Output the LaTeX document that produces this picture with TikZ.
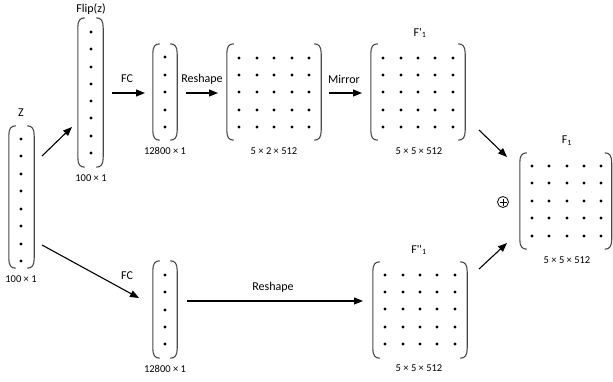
\documentclass[tikz,border=0pt]{standalone}
\usepackage{fontspec}
\setmainfont{Carlito}
\newfontfamily\plainfont{Carlito}
\usetikzlibrary{arrows.meta,fit}
\tikzset{
  paren/.style={draw=black!72, line width=1.1pt},
  conn/.style={line width=1.1pt, -{Triangle[length=9pt,width=7pt]}},
  lab/.style={font=\fontsize{12}{14}\selectfont, inner sep=0},
  dim/.style={font=\fontsize{10.5}{12}\selectfont, inner sep=0},
  box/.style={inner sep=0, draw=none},
}
% a matrix/vector drawn as a pair of round brackets: name, left, right, top, bottom
\newcommand\bracketpair[5]{%
  \coordinate (#1-nw) at (#2,#4);
  \coordinate (#1-se) at (#3,#5);
  \node[box, fit=(#1-nw)(#1-se)] (#1) {};
  \draw[paren] ([xshift=7pt]#1.north west) .. controls ([xshift=2pt]#1.north west) and ([yshift=-3pt]#1.north west) .. ([yshift=-10pt]#1.north west)
     -- ([yshift=10pt]#1.south west) .. controls ([yshift=3pt]#1.south west) and ([xshift=2pt]#1.south west) .. ([xshift=7pt]#1.south west);
  \draw[paren] ([xshift=-7pt]#1.north east) .. controls ([xshift=-2pt]#1.north east) and ([yshift=-3pt]#1.north east) .. ([yshift=-10pt]#1.north east)
     -- ([yshift=10pt]#1.south east) .. controls ([yshift=3pt]#1.south east) and ([xshift=-2pt]#1.south east) .. ([xshift=-7pt]#1.south east);
}
\newcommand\dotgrid[2]{\foreach \x in {#1} {\foreach \y in {#2} {\fill (\x,\y) circle (1.6);}}}
\begin{document}
\begin{tikzpicture}[x=1pt,y=-1pt]
\useasboundingbox (0,0) rectangle (613,381);

% input vector z and its flipped copy
\bracketpair{zv}{9}{34}{126}{268}
\dotgrid{21}{139,156,174,191,209,226,244,261}
\node[lab] (zlab) at (21,113) {Z};
\node[dim] (zdim) at (21,279) {100 × 1};

\bracketpair{flip}{78}{103}{18}{167}
\dotgrid{91}{32,49,67,84,101,118,136,153}
\node[lab] (fliplab) at (91,9) {Flip(z)};
\node[dim] (flipdim) at (91,178) {100 × 1};

% upper branch
\bracketpair{fca}{153}{177}{44}{140}
\dotgrid{165}{57,75,92,110,127}
\node[dim] (fcadim) at (165,151) {12800 × 1};

\bracketpair{rs}{227}{321}{44}{140}
\dotgrid{239,257,274,292,309}{58,75,92,110,127}
\node[dim] (rsdim) at (274,151) {5 × 2 × 512};

\bracketpair{fp}{371}{465}{44}{140}
\dotgrid{383,401,418,435,453}{58,75,92,110,127}
\node[lab] (fplab) at (420,33) {F{\plainfont'}\textsubscript{1}};
\node[dim] (fpdim) at (419,151) {5 × 5 × 512};

% lower branch
\bracketpair{fcb}{153}{177}{261}{358}
\dotgrid{165}{275,292,310,327,344}
\node[dim] (fcbdim) at (165,369) {12800 × 1};

\bracketpair{fpp}{373}{467}{262}{358}
\dotgrid{385,403,420,437,455}{275,292,309,327,344}
\node[lab] (fpplab) at (419,250) {F{\plainfont''}\textsubscript{1}};
\node[dim] (fppdim) at (419,368) {5 × 5 × 512};

% output
\bracketpair{fo}{520}{611.5}{153}{249}
\dotgrid{532,549,567,584,601}{166,183,201,218,236}
\node[lab] (folab) at (567,141) {F\textsubscript{1}};
\node[dim] (fodim) at (567,260) {5 × 5 × 512};

\node[circle, draw, line width=0.8pt, minimum size=11pt, inner sep=0] (plus) at (503,202) {};
\draw[line width=0.8pt] ([yshift=3.5pt]plus.center) -- ([yshift=-3.5pt]plus.center)
  ([xshift=-3.5pt]plus.center) -- ([xshift=3.5pt]plus.center);

% arrow end points
\coordinate (zup) at (42,156);     \coordinate (flipin) at (72,127);
\coordinate (flipout) at (112,93); \coordinate (fcain) at (145,93);
\coordinate (fcaout) at (186,93);  \coordinate (rsin) at (218,93);
\coordinate (rsout) at (329,93);   \coordinate (fpin) at (362,93);
\coordinate (fpout) at (479,130);  \coordinate (foina) at (507,157);
\coordinate (fppout) at (479,269); \coordinate (foinb) at (507,243);
\coordinate (zdown) at (42,245);   \coordinate (fcbin) at (139,298);
\coordinate (fcbout) at (187,301); \coordinate (fppin) at (363,301);

\draw[conn] (zup) -- (flipin);
\draw[conn] (flipout) -- (fcain);
\draw[conn] (fcaout) -- (rsin);
\draw[conn] (rsout) -- (fpin);
\draw[conn] (fpout) -- (foina);
\draw[conn] (fppout) -- (foinb);
\draw[conn] (zdown) -- (fcbin);
\draw[conn] (fcbout) -- (fppin);

% connector labels
\node[lab] (fcalab) at (127,79) {FC};
\node[lab] (rslab) at (202,79) {Reshape};
\node[lab] (mirlab) at (344,79) {Mirror};
\node[lab] (fcblab) at (127,276) {FC};
\node[lab] (rsblab) at (273,287) {Reshape};
\end{tikzpicture}
\end{document}
